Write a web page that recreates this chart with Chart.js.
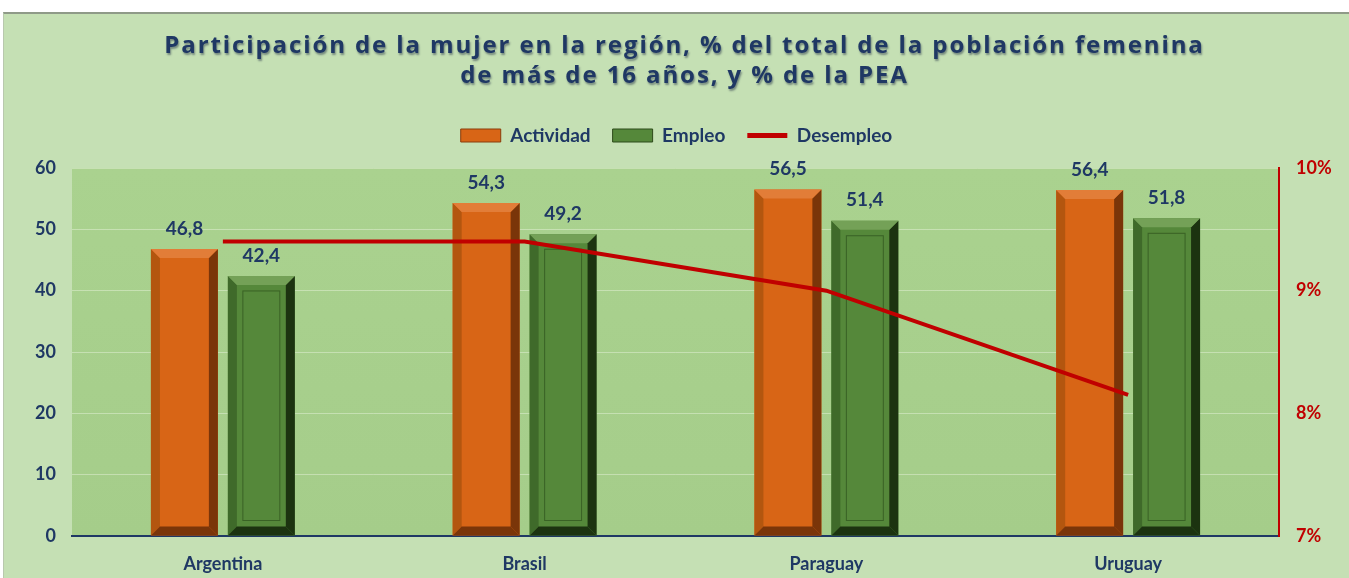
<!DOCTYPE html>
<html>
<head>
<meta charset="utf-8">
<script src="https://cdn.jsdelivr.net/npm/chart.js@4/dist/chart.umd.min.js"></script>
<style>
  html, body { margin: 0; padding: 0; background: #fff; }
  #marco {
    position: absolute; left: 3px; top: 12px; width: 1346px; height: 566px;
    background: #c5e0b4; border-top: 2px solid #8f9a88; border-left: 1px solid #b9c8ae;
  }
  #graficoMujer { display: block; }
</style>
</head>
<body>
<div id="marco"><canvas id="graficoMujer" width="1345" height="566"></canvas></div>
<script>
// datos
var paises = ['Argentina', 'Brasil', 'Paraguay', 'Uruguay'];
var actividad = [46.8, 54.3, 56.5, 56.4];
var empleo = [42.4, 49.2, 51.4, 51.8];
var desempleo = [9.4, 9.4, 9.0, 8.15];
var ticksIzq = [0, 10, 20, 30, 40, 50, 60];
var ticksDer = [7, 8, 9, 10];

var azul = '#1f3864';
var rojo = '#c00000';
var fuente = 'Lato, "Open Sans", sans-serif';

// fondo del area de trazado
var fondoArea = {
  id: 'fondoArea',
  beforeInit: function(chart) {
    // espacio extra bajo la leyenda
    var fitOrig = chart.legend.fit;
    chart.legend.fit = function() {
      fitOrig.call(this);
      this.height += 13;
    };
    // titulo espaciado y con sombra
    var drawOrig = chart.titleBlock.draw;
    chart.titleBlock.draw = function() {
      var ctx = this.ctx;
      ctx.save();
      ctx.letterSpacing = '1.9px';
      ctx.shadowColor = 'rgba(20,30,60,0.45)';
      ctx.shadowOffsetX = 1;
      ctx.shadowOffsetY = 2;
      ctx.shadowBlur = 2;
      ctx.translate(8, 0);
      drawOrig.call(this);
      ctx.restore();
    };
  },
  beforeDraw: function(chart) {
    var a = chart.chartArea, ctx = chart.ctx;
    var g = ctx.createLinearGradient(0, a.top, 0, a.bottom);
    g.addColorStop(0, '#aad28f');
    g.addColorStop(1, '#a5cd8a');
    ctx.save();
    ctx.fillStyle = g;
    ctx.fillRect(a.left, a.top, a.right - a.left, a.bottom - a.top);
    ctx.restore();
  }
};

// efecto bisel en las barras
var bisel = {
  id: 'bisel',
  afterDatasetDraw: function(chart, args) {
    var meta = args.meta;
    if (meta.type !== 'bar') return;
    var ctx = chart.ctx;
    var naranja = meta.index === 1;
    var oscuro = naranja ? '#7a3509' : '#1c3310';
    var medio = naranja ? '#b3560f' : '#3f6a2a';
    var claro = naranja ? '#e27d38' : '#74a157';
    ctx.save();
    meta.data.forEach(function(bar) {
      var w = bar.width, x0 = bar.x - w / 2, x1 = bar.x + w / 2;
      var y0 = bar.y, y1 = bar.base, b = 9;
      ctx.fillStyle = medio;
      ctx.beginPath(); ctx.moveTo(x0, y0); ctx.lineTo(x0 + b, y0 + b); ctx.lineTo(x0 + b, y1 - b); ctx.lineTo(x0, y1); ctx.fill();
      ctx.fillStyle = oscuro;
      ctx.beginPath(); ctx.moveTo(x1, y0); ctx.lineTo(x1 - b, y0 + b); ctx.lineTo(x1 - b, y1 - b); ctx.lineTo(x1, y1); ctx.fill();
      ctx.fillStyle = claro;
      ctx.beginPath(); ctx.moveTo(x0, y0); ctx.lineTo(x1, y0); ctx.lineTo(x1 - b, y0 + b); ctx.lineTo(x0 + b, y0 + b); ctx.fill();
      ctx.fillStyle = oscuro;
      ctx.beginPath(); ctx.moveTo(x0, y1); ctx.lineTo(x1, y1); ctx.lineTo(x1 - b, y1 - b); ctx.lineTo(x0 + b, y1 - b); ctx.fill();
      if (!naranja) {
        ctx.strokeStyle = 'rgba(30,60,15,0.5)';
        ctx.lineWidth = 1;
        ctx.strokeRect(x0 + b + 6, y0 + b + 6, w - 2 * b - 12, y1 - y0 - 2 * b - 12);
      }
    });
    ctx.restore();
  }
};

// etiquetas de valor
var etiquetas = {
  id: 'etiquetas',
  afterDatasetsDraw: function(chart) {
    var ctx = chart.ctx;
    ctx.save();
    ctx.font = 'bold 19px ' + fuente;
    ctx.fillStyle = azul;
    ctx.textAlign = 'center';
    ctx.textBaseline = 'bottom';
    chart.data.datasets.forEach(function(ds, i) {
      var meta = chart.getDatasetMeta(i);
      if (meta.type !== 'bar') return;
      meta.data.forEach(function(bar, j) {
        ctx.fillText(ds.data[j].toFixed(1).replace('.', ','), bar.x, bar.y - 11);
      });
    });
    ctx.restore();
  }
};

new Chart(document.getElementById('graficoMujer').getContext('2d'), {
  data: {
    labels: paises,
    datasets: [{
      type: 'line',
      label: 'Desempleo',
      data: desempleo,
      yAxisID: 'yDer',
      borderColor: rojo,
      backgroundColor: rojo,
      borderWidth: 4,
      pointRadius: 0,
      tension: 0,
      order: 0
    }, {
      type: 'bar',
      label: 'Actividad',
      data: actividad,
      yAxisID: 'y',
      backgroundColor: '#d86516',
      borderWidth: 0,
      categoryPercentage: 0.51,
      barPercentage: 0.87,
      order: 1
    }, {
      type: 'bar',
      label: 'Empleo',
      data: empleo,
      yAxisID: 'y',
      backgroundColor: '#55883a',
      borderWidth: 0,
      categoryPercentage: 0.51,
      barPercentage: 0.87,
      order: 1
    }]
  },
  options: {
    responsive: false,
    animation: false,
    layout: { padding: { top: 17, right: 0, left: 0, bottom: 0 } },
    plugins: {
      title: {
        display: true,
        text: ['Participación de la mujer en la región, % del total de la población femenina',
               'de más de 16 años, y % de la PEA'],
        color: azul,
        font: { family: '"Open Sans", Lato, sans-serif', size: 24, weight: 'bold', lineHeight: 1.25 },
        padding: { top: 0, bottom: 13 }
      },
      legend: {
        display: true,
        labels: {
          color: azul,
          font: { family: fuente, size: 19, weight: 'bold' },
          usePointStyle: true,
          pointStyleWidth: 40,
          boxHeight: 13,
          padding: 22,
          generateLabels: function(chart) {
            var orden = [1, 2, 0];
            return orden.map(function(i) {
              var ds = chart.data.datasets[i];
              var esLinea = ds.type === 'line';
              return {
                text: ds.label,
                datasetIndex: i,
                fillStyle: ds.backgroundColor,
                strokeStyle: esLinea ? ds.borderColor : (i === 1 ? '#8a3c0c' : '#2d4a1a'),
                lineWidth: esLinea ? 5 : 1,
                pointStyle: esLinea ? 'line' : 'rect',
                fontColor: azul,
                hidden: false
              };
            });
          }
        }
      },
      tooltip: { enabled: false }
    },
    scales: {
      x: {
        grid: { display: false, drawTicks: false },
        border: { display: true, color: azul, width: 2 },
        ticks: { color: azul, font: { family: fuente, size: 18, weight: 'bold' }, padding: 17 },
        afterFit: function(s) { s.height = 44; }
      },
      y: {
        position: 'left',
        min: 0, max: 60,
        afterBuildTicks: function(s) { s.ticks = ticksIzq.map(function(v) { return { value: v }; }); },
        grid: { color: 'rgba(235,245,225,0.45)', drawTicks: false },
        border: { display: false },
        ticks: { color: azul, font: { family: fuente, size: 18, weight: 'bold' }, padding: 16 },
        afterFit: function(s) { s.width = 68; }
      },
      yDer: {
        position: 'right',
        min: 7, max: 10,
        afterBuildTicks: function(s) { s.ticks = ticksDer.map(function(v) { return { value: v }; }); },
        grid: { display: false, drawTicks: false },
        border: { display: true, color: rojo, width: 2 },
        ticks: {
          color: rojo,
          font: { family: fuente, size: 18, weight: 'bold' },
          padding: 17,
          callback: function(v) { return v + '%'; }
        },
        afterFit: function(s) { s.width = 70; }
      }
    }
  },
  plugins: [fondoArea, bisel, etiquetas]
});
</script>
</body>
</html>
